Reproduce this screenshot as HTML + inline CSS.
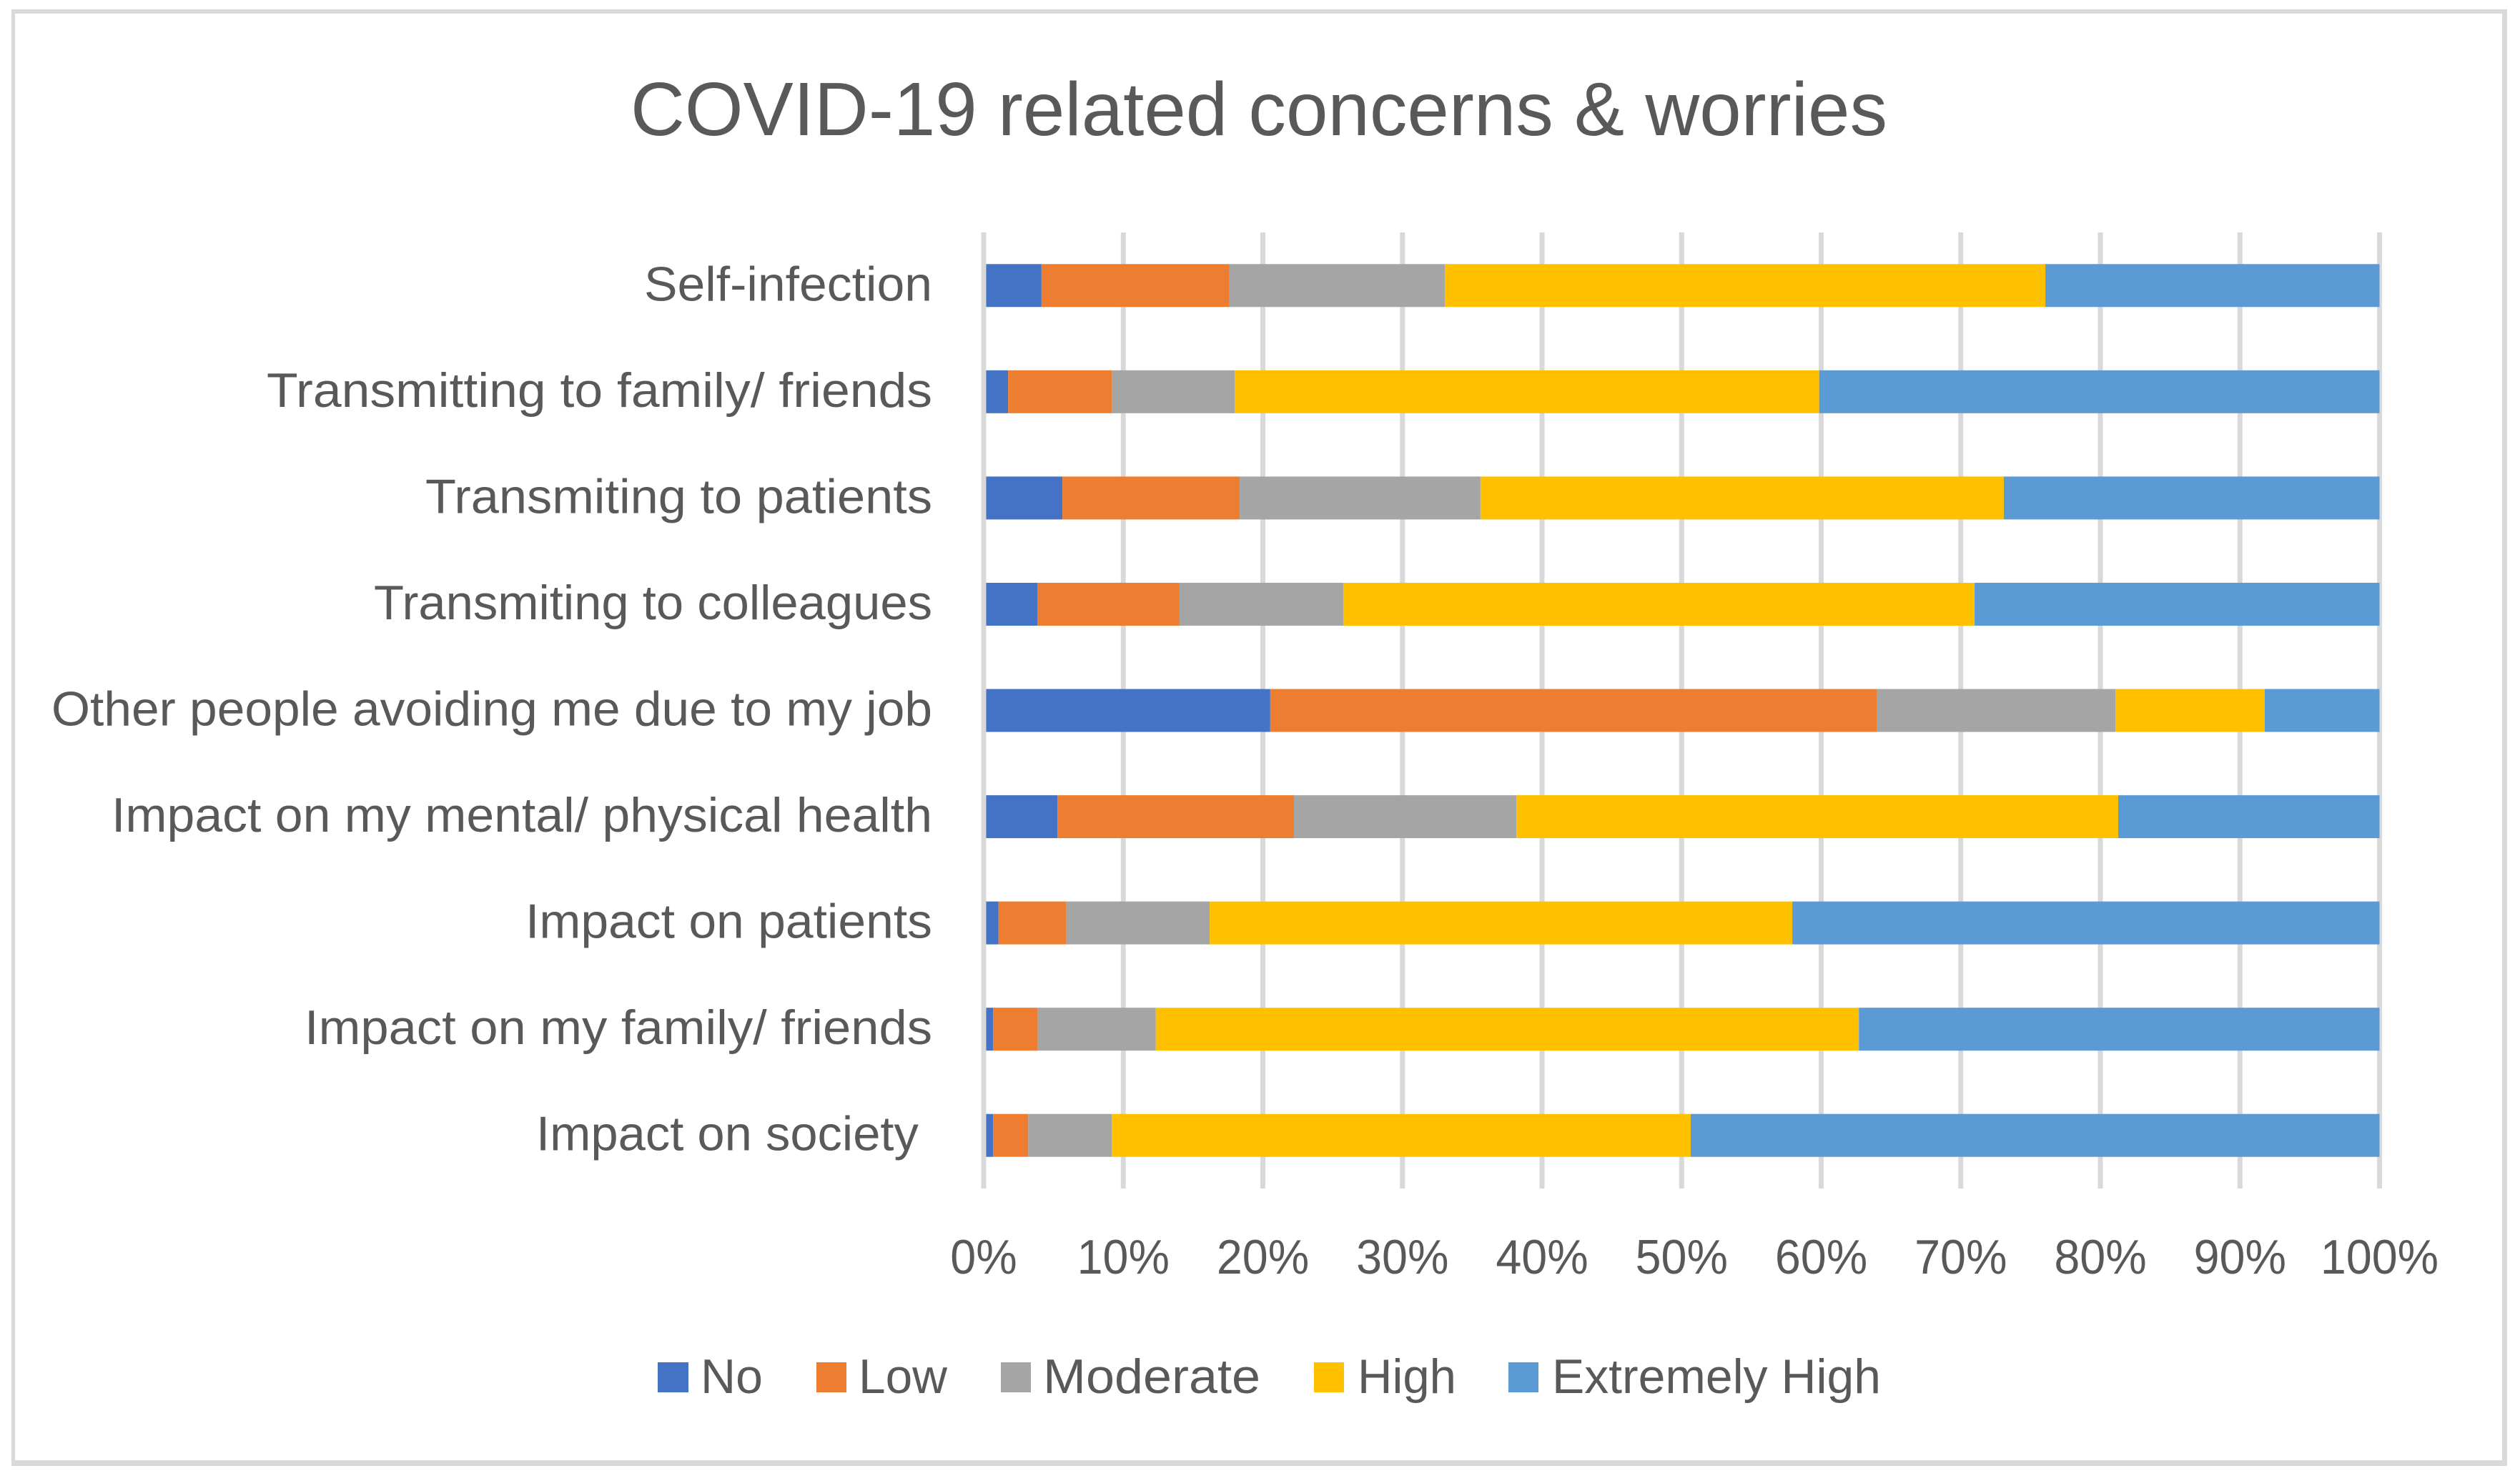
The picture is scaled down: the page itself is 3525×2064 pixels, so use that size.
<!DOCTYPE html>
<html lang="en">
<head>
<meta charset="utf-8">
<title>COVID-19 related concerns &amp; worries</title>
<style>
html,body{margin:0;padding:0;background:#fff;width:3525px;height:2064px;overflow:hidden}
svg{display:block}
text{font-family:"Liberation Sans",sans-serif;fill:#595959;white-space:pre}
</style>
</head>
<body>
<svg id="chart" xmlns="http://www.w3.org/2000/svg" width="3525" height="2064" viewBox="0 0 3525 2064">
  <rect x="0" y="0" width="3525" height="2064" fill="#ffffff"/>
  <g fill="#d9d9d9">
    <rect x="16" y="13" width="3491" height="6"/>
    <rect x="16" y="13" width="5" height="2037"/>
    <rect x="3500" y="13" width="7" height="2037"/>
    <rect x="16" y="2042" width="3491" height="8"/>
  </g>
  <text x="882" y="189" font-size="106" textLength="1758" lengthAdjust="spacingAndGlyphs">COVID-19 related concerns &amp; worries</text>
  <g id="gridlines"></g>
  <g id="bars"></g>
  <g id="axis-zero"></g>
  <g id="y-labels"></g>
  <g id="x-labels"></g>
  <g>
    <g>
      <rect x="920" y="1905" width="43" height="42" fill="#4472c4"/>
      <text x="980" y="1948" font-size="68" textLength="87" lengthAdjust="spacingAndGlyphs">No</text>
    </g>
    <g>
      <rect x="1142" y="1905" width="42" height="42" fill="#ed7d31"/>
      <text x="1201" y="1948" font-size="68" textLength="124" lengthAdjust="spacingAndGlyphs">Low</text>
    </g>
    <g>
      <rect x="1400" y="1905" width="42" height="42" fill="#a5a5a5"/>
      <text x="1459" y="1948" font-size="68" textLength="304" lengthAdjust="spacingAndGlyphs">Moderate</text>
    </g>
    <g>
      <rect x="1838" y="1905" width="42" height="42" fill="#ffc000"/>
      <text x="1899" y="1948" font-size="68" textLength="138" lengthAdjust="spacingAndGlyphs">High</text>
    </g>
    <g>
      <rect x="2110" y="1905" width="42" height="42" fill="#5b9bd5"/>
      <text x="2171" y="1948" font-size="68" textLength="460" lengthAdjust="spacingAndGlyphs">Extremely High</text>
    </g>
  </g>
</svg>
<script>
const categories = ["Self-infection", "Transmitting to family/ friends", "Transmiting to patients", "Transmiting to colleagues", "Other people avoiding me due to my job", "Impact on my mental/ physical health", "Impact on patients", "Impact on my family/ friends", "Impact on society "];
const seriesNames = ["No", "Low", "Moderate", "High", "Extremely High"];
const valuesNo = [4.14, 1.75, 5.64, 3.84, 20.53, 5.28, 1.06, 0.67, 0.67];
const valuesLow = [13.45, 7.42, 12.70, 10.19, 43.44, 16.95, 4.87, 3.17, 2.52];
const valuesModerate = [15.45, 8.81, 17.25, 11.73, 17.12, 15.94, 10.26, 8.49, 5.98];
const valuesHigh = [43.02, 41.88, 37.49, 45.23, 10.68, 43.11, 41.74, 50.37, 41.48];
const valuesExtremelyHigh = [23.94, 40.14, 26.92, 29.01, 8.23, 18.72, 42.07, 37.30, 49.35];
const tickValues = [0, 10, 20, 30, 40, 50, 60, 70, 80, 90, 100];
const tickLabels = ["0%", "10%", "20%", "30%", "40%", "50%", "60%", "70%", "80%", "90%", "100%"];

const NS = "http://www.w3.org/2000/svg";
const allSeries = [valuesNo, valuesLow, valuesModerate, valuesHigh, valuesExtremelyHigh];
const seriesColors = ["#4472c4", "#ed7d31", "#a5a5a5", "#ffc000", "#5b9bd5"];

const PLOT_LEFT = 1376, PLOT_WIDTH = 1952.5, PLOT_TOP = 325, PLOT_BOTTOM = 1662;
const BAR_HEIGHT = 60;
const TICK_CONDENSE = 0.95;

function xScale(pct) { return PLOT_LEFT + pct / 100 * PLOT_WIDTH; }
function yBand(index) { return PLOT_TOP + (index + 0.5) * (PLOT_BOTTOM - PLOT_TOP) / categories.length; }
function slug(s) { return s.trim().toLowerCase().replace(/[^a-z0-9]+/g, "-").replace(/(^-|-$)/g, ""); }
function condense(el, factor) {
  el.setAttribute("textLength", (el.getComputedTextLength() * factor).toFixed(1));
  el.setAttribute("lengthAdjust", "spacingAndGlyphs");
}
/* Layout only: rendered width of each category label, matched to the reference typeface. */
function labelWidth(name) {
  switch (name.trim()) {
    case "Self-infection": return 403;
    case "Transmitting to family/ friends": return 931;
    case "Transmiting to patients": return 709;
    case "Transmiting to colleagues": return 781;
    case "Other people avoiding me due to my job": return 1232;
    case "Impact on my mental/ physical health": return 1148;
    case "Impact on patients": return 569;
    case "Impact on my family/ friends": return 878;
    case "Impact on society": return 554;
    default: return 0;
  }
}

const gridGroup = document.getElementById("gridlines");
tickValues.forEach(function (t, i) {
  const line = document.createElementNS(NS, "rect");
  line.setAttribute("x", xScale(t) - 3.5);
  line.setAttribute("y", PLOT_TOP);
  line.setAttribute("width", 7);
  line.setAttribute("height", PLOT_BOTTOM - PLOT_TOP);
  line.setAttribute("fill", "#d9d9d9");
  
  
  gridGroup.appendChild(line);

  const label = document.createElementNS(NS, "text");
  label.setAttribute("x", xScale(t));
  label.setAttribute("y", 1781);
  label.setAttribute("font-size", 68);
  label.setAttribute("text-anchor", "middle");
  label.textContent = tickLabels[i];
  
  
  document.getElementById("x-labels").appendChild(label);
  condense(label, TICK_CONDENSE);
});

const barGroup = document.getElementById("bars");
categories.forEach(function (cat, row) {
  let cumulative = 0;
  allSeries.forEach(function (values, s) {
    const start = cumulative;
    cumulative += values[row];
    const bar = document.createElementNS(NS, "rect");
    bar.setAttribute("x", xScale(start));
    bar.setAttribute("y", yBand(row) - BAR_HEIGHT / 2);
    bar.setAttribute("width", xScale(cumulative) - xScale(start));
    bar.setAttribute("height", BAR_HEIGHT);
    bar.setAttribute("fill", seriesColors[s]);
    
    
    barGroup.appendChild(bar);
  });

  const label = document.createElementNS(NS, "text");
  label.setAttribute("x", 1304);
  label.setAttribute("y", yBand(row) + 21);
  label.setAttribute("font-size", 68);
  label.setAttribute("text-anchor", "end");
  label.textContent = cat;
  
  
  document.getElementById("y-labels").appendChild(label);
  label.setAttribute("textLength", labelWidth(cat));
  label.setAttribute("lengthAdjust", "spacingAndGlyphs");
});

const zeroAxis = document.createElementNS(NS, "rect");
zeroAxis.setAttribute("x", xScale(0) - 3.5);
zeroAxis.setAttribute("y", PLOT_TOP);
zeroAxis.setAttribute("width", 7);
zeroAxis.setAttribute("height", PLOT_BOTTOM - PLOT_TOP);
zeroAxis.setAttribute("fill", "#d9d9d9");


document.getElementById("axis-zero").appendChild(zeroAxis);
</script>
</body>
</html>
